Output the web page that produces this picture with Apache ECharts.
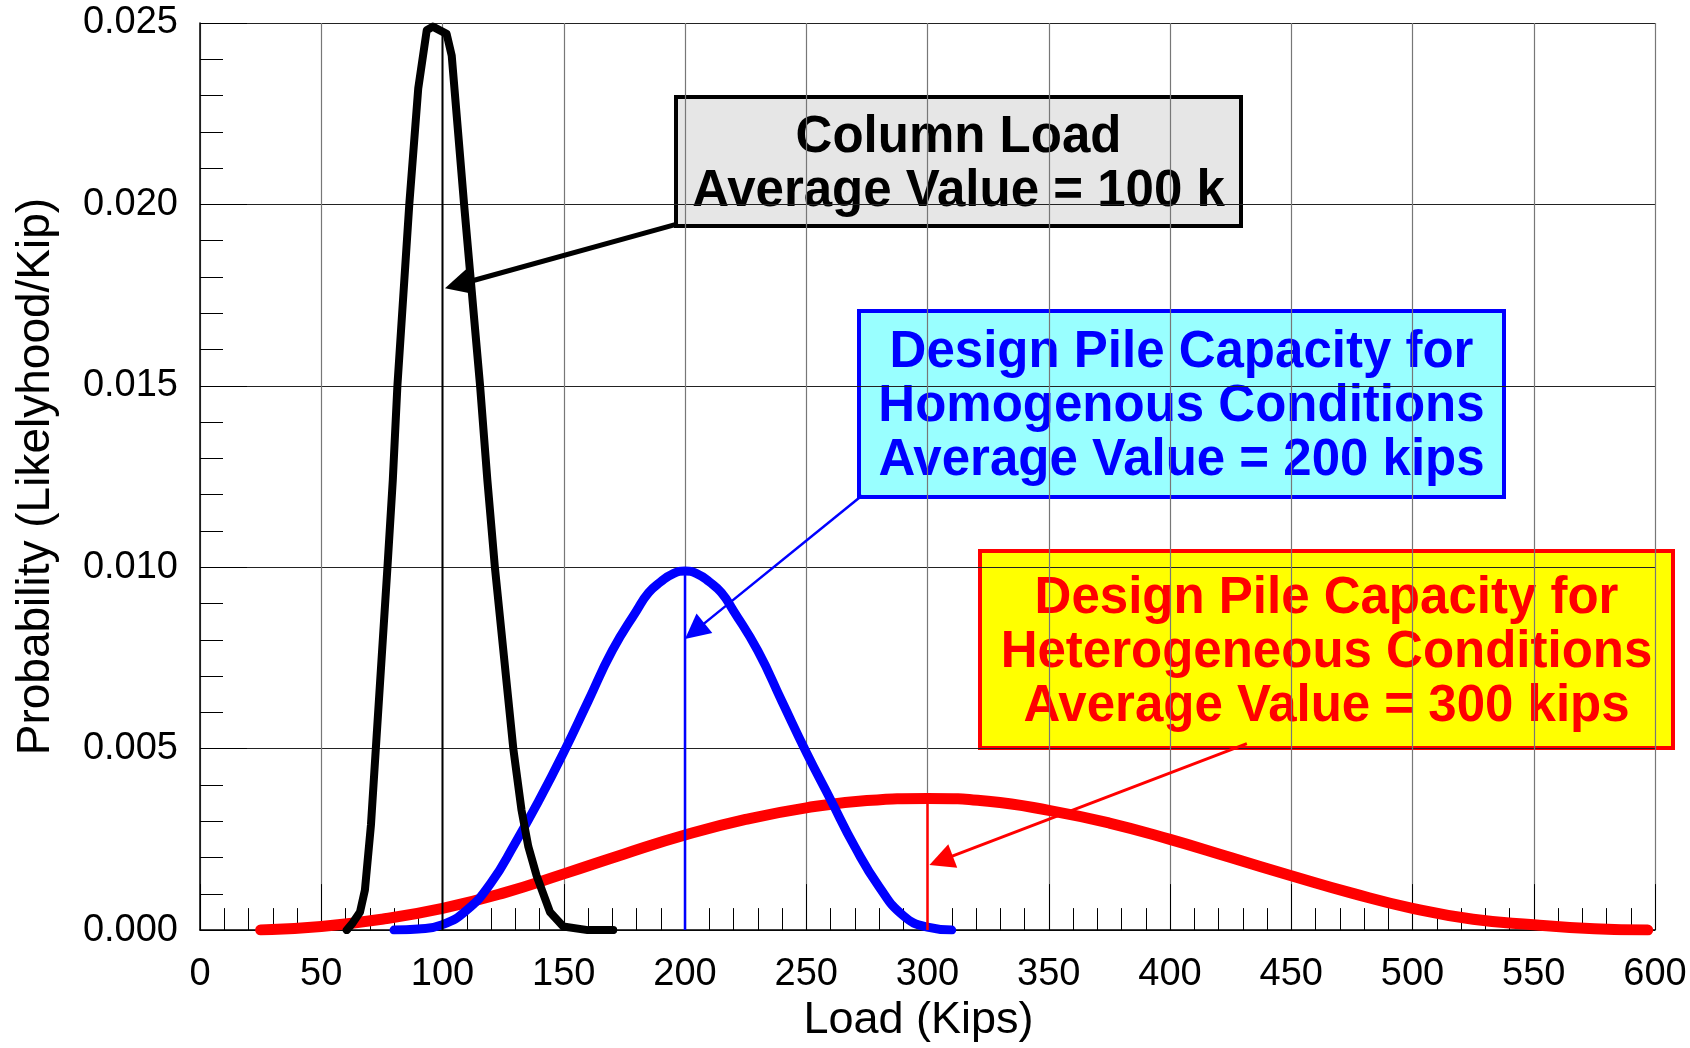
<!DOCTYPE html>
<html lang="en">
<head>
  <meta charset="UTF-8">
  <title>Pile capacity vs column load</title>
  <script src="https://cdn.jsdelivr.net/npm/echarts@6/dist/echarts.min.js"></script>
</head>
<body style="margin:0; background-color:#fff;">
<div id="main" style="width:1690px; height:1048px;"></div>

<script>
  // curves: [load (kips), probability]
  var columnLoad = [
    [60.5, 0], [63, 0.0002], [66, 0.0005], [68, 0.0011], [70.5, 0.0029], [72.5, 0.005],
    [77.3, 0.01], [79.5, 0.0124], [81.4, 0.015], [86.3, 0.02], [90, 0.0232], [93.5, 0.0248],
    [96, 0.0249], [101.7, 0.0247], [103.8, 0.0241], [108.9, 0.02], [115.5, 0.015],
    [118.5, 0.0124], [121.6, 0.01], [129.2, 0.005], [132.6, 0.0033], [135.4, 0.0023],
    [138.8, 0.0015], [144.3, 0.0005], [149.8, 0.0001], [160, 0], [170.4, 0]
  ];

  var homogenous = [
    [80, 0], [90, 0.00003], [100, 0.00015], [110, 0.00055], [120, 0.0013], [130, 0.0024],
    [140, 0.0036], [150, 0.0049], [160, 0.0063], [170, 0.0077], [180, 0.0088], [185, 0.0093],
    [190, 0.0096], [195, 0.00982], [200, 0.0099], [205, 0.00982], [210, 0.0096], [215, 0.0093],
    [220, 0.0088], [230, 0.0077], [240, 0.0063], [250, 0.0049], [260, 0.0036], [270, 0.0023],
    [280, 0.0012], [290, 0.0004], [300, 0.00008], [310, 0]
  ];

  var heterogeneous = [
    [25, 0], [50, 0.0001], [75, 0.0003], [100, 0.0006], [125, 0.00102], [150, 0.00155],
    [175, 0.0021], [200, 0.00262], [225, 0.00305], [250, 0.00337], [275, 0.00357],
    [300, 0.00363], [325, 0.00355], [350, 0.0033], [375, 0.00295], [400, 0.0025],
    [425, 0.002], [450, 0.0015], [475, 0.00102], [500, 0.0006], [525, 0.0003],
    [550, 0.00015], [575, 0.00004], [597, 0]
  ];

  // average values and the height each mean line reaches
  var meanLoads = [100, 200, 300];
  var meanTops = [0.0247, 0.0099, 0.00363];

  // leader arrows, data coords: from the box corner to the arrow head centre
  var arrowFrom = [[196.3, 0.01945], [273, 0.01198], [431.7, 0.00514]];
  var arrowTo = [[106, 0.01778], [204, 0.00824], [305.6, 0.00192]];

  var boxTexts = [
    'Column Load\nAverage Value = 100 k',
    'Design Pile Capacity for\nHomogenous Conditions\nAverage Value = 200 kips',
    'Design Pile Capacity for\nHeterogeneous Conditions\nAverage Value = 300 kips'
  ];

  var colors = ['#000000', '#0000ff', '#ff0000'];
  var boxFill = ['#e6e6e6', '#99ffff', '#ffff00'];
  // box rectangles in pixels [x, y, w, h]
  var boxRect = [[676, 97, 565, 129], [859, 311, 645, 186], [980, 551, 693, 197]];

  var font = 'Liberation Sans, Arial, sans-serif';
  var chart = echarts.init(document.getElementById('main'));

  var series = [];
  [heterogeneous, homogenous, columnLoad].forEach(function (d, i) {
    var c = [colors[2], colors[1], colors[0]][i];
    series.push({
      type: 'line',
      data: d,
      symbol: 'none',
      smooth: i === 2 ? false : 0.5,
      z: 3 + i,
      lineStyle: { color: c, width: [11, 9, 8][i], cap: 'round', join: 'round' }
    });
  });

  meanLoads.forEach(function (m, i) {
    series.push({
      type: 'line',
      data: [[m, 0], [m, meanTops[i]]],
      symbol: 'none',
      z: 7,
      lineStyle: { color: colors[i], width: i === 0 ? 2 : 2.5 }
    });
  });

  series.push({
    type: 'lines',
    coordinateSystem: 'cartesian2d',
    z: 8,
    symbol: ['none', 'triangle'],
    symbolSize: 25,
    data: arrowFrom.map(function (f, i) {
      return {
        coords: [f, arrowTo[i]],
        lineStyle: { color: colors[i], width: [5, 2.5, 3][i], opacity: 1 }
      };
    })
  });

  var graphic = boxRect.map(function (r, i) {
    return {
      type: 'group',
      z: 100,
      children: [
        {
          type: 'rect',
          shape: { x: r[0], y: r[1], width: r[2], height: r[3] },
          style: { fill: boxFill[i], stroke: colors[i], lineWidth: 4 }
        },
        {
          type: 'text',
          x: r[0] + r[2] / 2,
          y: r[1] + r[3] / 2 + 3,
          style: {
            text: boxTexts[i],
            fill: colors[i],
            font: 'bold 51px ' + font,
            lineHeight: 54,
            textAlign: 'center',
            textVerticalAlign: 'middle'
          }
        }
      ]
    };
  });

  var option = {
    animation: false,
    backgroundColor: '#fff',
    grid: { left: 200, right: 35, top: 23, bottom: 116 },
    xAxis: {
      type: 'value',
      min: 0,
      max: 600,
      interval: 50,
      name: 'Load (Kips)',
      nameLocation: 'middle',
      nameGap: 66,
      nameTextStyle: { fontSize: 45, color: '#000', fontFamily: font, padding: [0, 18, 0, 0] },
      axisLine: { lineStyle: { color: '#000', width: 1.5 } },
      axisTick: { inside: true, length: 46, lineStyle: { color: '#000' } },
      minorTick: { show: true, splitNumber: 5, length: 22, lineStyle: { color: '#000' } },
      splitLine: { show: true, lineStyle: { color: '#777', width: 1.2 } },
      axisLabel: { fontSize: 38, color: '#000', fontFamily: font, margin: 25 }
    },
    yAxis: {
      type: 'value',
      min: 0,
      max: 0.025,
      interval: 0.005,
      name: 'Probability (Likelyhood/Kip)',
      nameLocation: 'middle',
      nameGap: 141,
      nameTextStyle: { fontSize: 46, color: '#000', fontFamily: font },
      axisLine: { show: true, lineStyle: { color: '#000', width: 1.5 } },
      axisTick: { show: true, inside: true, length: 47, lineStyle: { color: '#000' } },
      minorTick: { show: true, splitNumber: 5, length: 23, lineStyle: { color: '#000' } },
      splitLine: { show: true, lineStyle: { color: '#222', width: 1.2 } },
      axisLabel: {
        fontSize: 38, color: '#000', fontFamily: font, margin: 22,
        formatter: function (v) { return v.toFixed(3); }
      }
    },
    series: series,
    graphic: graphic
  };

  chart.setOption(option);
</script>
</body>
</html>
